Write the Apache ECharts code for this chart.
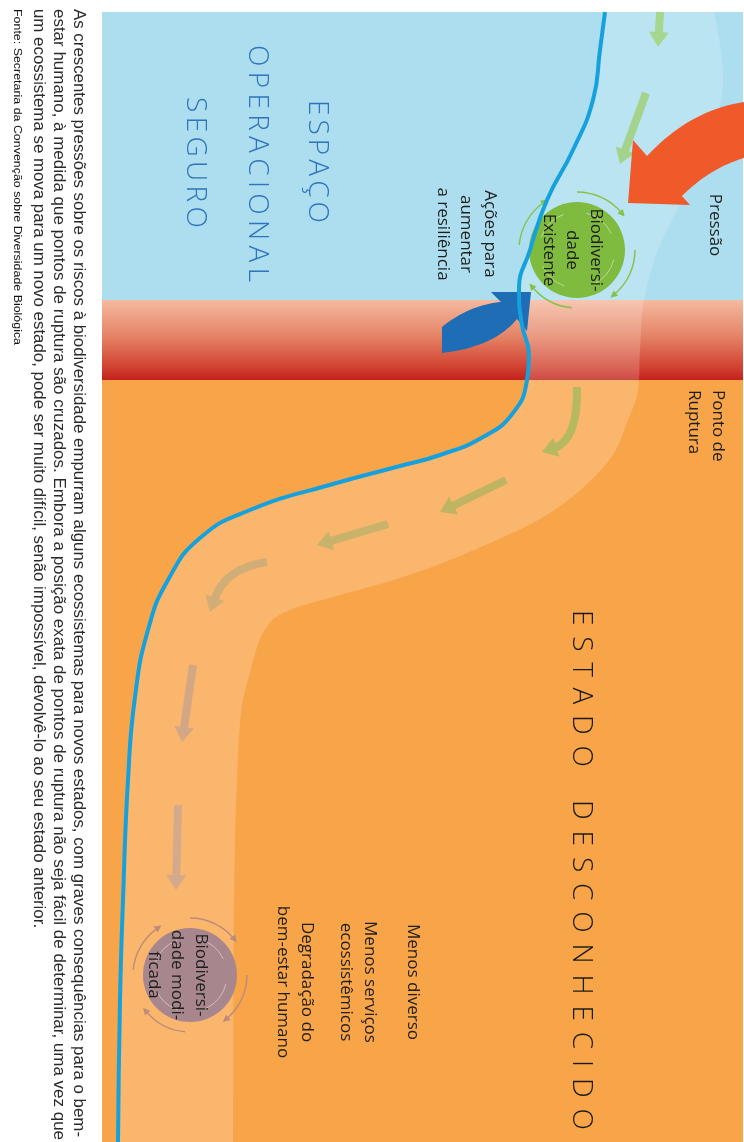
<!DOCTYPE html>
<html><head><meta charset="utf-8">
<script src="https://cdn.jsdelivr.net/npm/echarts@6/dist/echarts.min.js"></script>
<style>html,body{margin:0;padding:0;background:#fff}#c{width:744px;height:1142px}</style>
</head><body><div id="c"></div>
<script>
// ---------------- DATA ----------------
// zones of the state space (along the panel, top to bottom)
const zoneNames = ['Espaço operacional seguro', 'Ponto de ruptura', 'Estado desconhecido'];
const zoneFrom = [12, 300, 380];
const zoneTo = [300, 380, 1142];

// threshold curve separating the states
const thresholdCurve = [[605,12],[600,50],[593,100],[573,150],[547,200],[530,250],[519,290],[522,325],[529,355],[527,380],[513,413],[483,437],[440,455],[400,466],[333,484],[250,510],[200,538],[168,580],[148,630],[135,697],[128,780],[123,900],[120,1000],[118,1142]];
// outer edge of the trajectory band
const bandEdge = [[714,12],[722,60],[721,100],[706,150],[682,200],[658,250],[644,300],[640,350],[638,390],[628,420],[607,463],[550,513],[467,553],[400,578],[333,597],[283,613],[262,635],[248,680],[241,713],[237,780],[234,900],[233,1142]];

// trajectory arrows (start, optional bend, tip)
const flowFrom = [[660,12],[646,93],[577,387],[506,480],[388,524],[267,562],[193,665],[178,805]];
const flowVia  = [null,null,[578,440],null,null,[225,568],null,null];
const flowTo   = [[658,47],[620,164],[542,452],[440,512],[317,545],[210,612],[182,742],[176,890]];

// big arrows: Pressão, Ações para aumentar a resiliência
const bigArrowNames = ['Pressão', 'Ações para aumentar a resiliência'];
const bigArrowHead = [[[633,140],[628,203],[690,205]], [[491,292],[531,292],[527,331]]];
const bigArrowEdgeA = [[[682,196],[710,168],[744,158]], [[517,319],[494,347],[442,353]]];
const bigArrowEdgeB = [[[744,102],[690,110],[647,156]], [[442,327],[469,305],[501,302]]];

// biodiversity states
const stateNames = ['Biodiversidade existente', 'Biodiversidade modificada'];
const stateCenter = [[577,250],[190,975]];
const stateRadius = [48,47];
const orbitStartDeg = [-90, 0, 95, 185];
const orbitEndDeg = [-40, 50, 140, 235];

// labels
const labelText = ['Pressão', 'Ponto de\nRuptura', 'Biodiversi-\ndade\nExistente', 'Ações para\naumentar\na resiliência', 'Menos diverso', 'Menos serviços\necossistêmicos', 'Degradação do\nbem-estar humano', 'Biodiversi-\ndade modi-\nficada'];
const labelPos = [[715,225],[706,390],[572,250],[466,234],[413,982],[358,982],[295,982],[177,975]];
const labelAlign = ['center','left','center','center','center','center','center','center'];

// spaced headings
const headingWords = ['ESPAÇO','OPERACIONAL','SEGURO','ESTADO','DESCONHECIDO'];
const headingX = [317,257,195,581,581];
const headingFrom = [100,45,97,610,800];
const headingTo = [223,282,228,767,1130];

// caption
const captionLines = [
  'As crescentes pressões sobre os riscos à biodiversidade empurram alguns ecossistemas para novos estados, com graves consequências para o bem-',
  'estar humano, à medida que pontos de ruptura são cruzados. Embora a posição exata de pontos de ruptura não seja fácil de determinar, uma vez que',
  'um ecossistema se mova para um novo estado, pode ser muito difícil, senão impossível, devolvê-lo ao seu estado anterior.',
  'Fonte: Secretaria da Convenção sobre Diversidade Biológica'
];
const captionX = [78,58,38,17];
const captionTo = [1137,1140,null,345];

// ---------------- STYLE ----------------
const PANEL_L = 102, PANEL_R = 743, CAPTION_START = 9;
const zoneFill = ['#acdef0',
  new echarts.graphic.LinearGradient(0,0,0,1,[{offset:0,color:'#f5b9a0'},{offset:0.45,color:'#e58466'},{offset:0.85,color:'#d0402f'},{offset:1,color:'#c4201c'}]),
  '#f8a54a'];
const flowColor = ['#a6d78e','#a4d48b','#b6b95f','#c0b463','#c9b36b','#d1ad78','#d4a784','#d5a98b'];
const bigArrowColor = ['#f05a2a','#1f6db4'];
const stateFill = ['#7fbb3e','#a7868e'];
const orbitColor = ['#84c243','#bd8a7c'];
const TXT = '#1e1e1c';
const FONT = '"Open Sans", sans-serif';
const ROT = -Math.PI / 2;

const mctx = document.createElement('canvas').getContext('2d');
function measure(t, font){ mctx.font = font; return mctx.measureText(t).width; }

function quad(p0, c, p1, n){
  const out = [];
  for (let i = 0; i <= n; i++){
    const t = i / n, a = (1-t)*(1-t), b = 2*(1-t)*t, d = t*t;
    out.push([a*p0[0]+b*c[0]+d*p1[0], a*p0[1]+b*c[1]+d*p1[1]]);
  }
  return out;
}
function catmull(pts, n){
  const out = [pts[0]];
  for (let i = 0; i < pts.length - 1; i++){
    const p0 = pts[Math.max(i-1,0)], p1 = pts[i], p2 = pts[i+1], p3 = pts[Math.min(i+2, pts.length-1)];
    for (let k = 1; k <= n; k++){
      const t = k/n, t2 = t*t, t3 = t2*t;
      out.push([0,1].map(j => 0.5*((2*p1[j]) + (-p0[j]+p2[j])*t + (2*p0[j]-5*p1[j]+4*p2[j]-p3[j])*t2 + (-p0[j]+3*p1[j]-3*p2[j]+p3[j])*t3)));
    }
  }
  return out;
}

const chart = echarts.init(document.getElementById('c'));

const series = [
  { // zones
    type:'custom', name:'zones', z:1, silent:true,
    data: zoneNames.map((n,i) => [zoneFrom[i], zoneTo[i]]),
    renderItem: (params, api) => {
      const i = params.dataIndex;
      const a = api.coord([PANEL_L, zoneFrom[i]]), b = api.coord([PANEL_R, zoneTo[i]]);
      return {type:'rect', shape:{x:a[0], y:a[1], width:b[0]-a[0], height:b[1]-a[1]}, style:{fill: zoneFill[i]}};
    }
  },
  { // light trajectory band
    type:'custom', name:'band', z:2, silent:true, data:[0],
    renderItem: (params, api) => {
      const inner = catmull(thresholdCurve, 10).map(p => api.coord(p));
      const outer = catmull(bandEdge, 10).map(p => api.coord(p)).reverse();
      return {type:'polygon', shape:{points: inner.concat(outer)}, style:{fill:'rgba(255,255,255,0.19)'}};
    }
  },
  { // trajectory arrows
    type:'custom', name:'trajectory', z:3, silent:true,
    data: flowFrom.map((p,i) => flowTo[i]),
    renderItem: (params, api) => {
      const i = params.dataIndex, col = flowColor[i];
      const s = api.coord(flowFrom[i]), e = api.coord(flowTo[i]);
      const c = flowVia[i] ? api.coord(flowVia[i]) : null;
      const ref = c || s;
      let dx = e[0]-ref[0], dy = e[1]-ref[1];
      const L = Math.hypot(dx, dy); dx /= L; dy /= L;
      const HL = 15, HW = 10, nx = -dy, ny = dx;
      const base = [e[0]-dx*HL, e[1]-dy*HL];
      const end = [base[0]+dx*2, base[1]+dy*2];
      const shaft = c
        ? {type:'bezierCurve', shape:{x1:s[0], y1:s[1], x2:end[0], y2:end[1], cpx1:c[0], cpy1:c[1]}, style:{stroke:col, lineWidth:8, fill:null}}
        : {type:'line', shape:{x1:s[0], y1:s[1], x2:end[0], y2:end[1]}, style:{stroke:col, lineWidth:8}};
      const head = {type:'polygon', shape:{points:[e, [base[0]+nx*HW, base[1]+ny*HW], [base[0]-nx*HW, base[1]-ny*HW]]}, style:{fill:col}};
      return {type:'group', children:[shaft, head]};
    }
  },
  { // biodiversity states
    type:'custom', name:'states', z:3, silent:true,
    data: stateCenter,
    renderItem: (params, api) => {
      const i = params.dataIndex;
      const c = api.coord(stateCenter[i]);
      const r = stateRadius[i];
      const kids = [{type:'circle', shape:{cx:c[0], cy:c[1], r:r}, style:{fill:stateFill[i]}}];
      orbitStartDeg.forEach((sd, k) => {
        const s = sd*Math.PI/180, e = orbitEndDeg[k]*Math.PI/180, R = r + 10;
        kids.push({type:'arc', shape:{cx:c[0], cy:c[1], r:R, startAngle:s, endAngle:e, clockwise:true}, style:{stroke:orbitColor[i], lineWidth:1.4, fill:null}});
        const p = [c[0]+R*Math.cos(e), c[1]+R*Math.sin(e)];
        const d = [-Math.sin(e), Math.cos(e)], n = [Math.cos(e), Math.sin(e)];
        kids.push({type:'polygon', shape:{points:[[p[0]+d[0]*5, p[1]+d[1]*5],[p[0]-d[0]*2+n[0]*3.5, p[1]-d[1]*2+n[1]*3.5],[p[0]-d[0]*2-n[0]*3.5, p[1]-d[1]*2-n[1]*3.5]]}, style:{fill:orbitColor[i]}});
        const s2 = s + 0.25, e2 = e + 0.25;
        kids.push({type:'arc', shape:{cx:c[0], cy:c[1], r:r-10, startAngle:s2, endAngle:e2, clockwise:true}, style:{stroke:'rgba(255,255,255,0.45)', lineWidth:1, fill:null}});
      });
      return {type:'group', children:kids};
    }
  },
  { // big arrows
    type:'custom', name:'forces', z:4, silent:true,
    data: bigArrowNames.map((n,i) => bigArrowHead[i][1]),
    renderItem: (params, api) => {
      const i = params.dataIndex;
      const pts = bigArrowHead[i].concat(quad(...bigArrowEdgeA[i], 20), quad(...bigArrowEdgeB[i], 20)).map(p => api.coord(p));
      return {type:'polygon', shape:{points:pts}, style:{fill:bigArrowColor[i]}};
    }
  },
  { // threshold curve
    type:'line', name:'limiar', z:5, silent:true, data: thresholdCurve, smooth:0.5, symbol:'none',
    lineStyle:{color:'#15a1dd', width:4}
  },
  { // labels
    type:'custom', name:'labels', z:6, silent:true,
    data: labelPos,
    renderItem: (params, api) => {
      const i = params.dataIndex;
      const p = api.coord(labelPos[i]);
      return {type:'text', x:p[0], y:p[1], rotation:ROT,
        style:{text:labelText[i], fill:TXT, fontSize:17, fontFamily:FONT, lineHeight:23.5, align:labelAlign[i], verticalAlign:'middle'}};
    }
  },
  { // spaced headings
    type:'custom', name:'headings', z:6, silent:true,
    data: headingWords.map((w,i) => [headingX[i], headingFrom[i]]),
    renderItem: (params, api) => {
      const i = params.dataIndex, word = headingWords[i];
      const size = 28, weight = 300;
      const font = weight + ' ' + size + 'px ' + FONT;
      const chars = Array.from(word);
      const widths = chars.map(ch => measure(ch, font));
      const total = widths.reduce((a,b) => a+b, 0);
      const track = (headingTo[i] - headingFrom[i] - total) / (chars.length - 1);
      const col = i < 3 ? '#2f74bd' : '#1a1a18';
      let y = headingFrom[i];
      const kids = chars.map((ch, k) => {
        const p = api.coord([headingX[i], y]);
        y += widths[k] + track;
        return {type:'text', x:p[0], y:p[1], rotation:ROT, style:{text:ch, fill:col, fontSize:size, fontWeight:weight, fontFamily:FONT, align:'left', verticalAlign:'middle'}};
      });
      return {type:'group', children:kids};
    }
  },
  { // caption
    type:'custom', name:'caption', z:6, silent:true,
    data: captionLines.map((t,i) => [captionX[i], CAPTION_START]),
    renderItem: (params, api) => {
      const i = params.dataIndex;
      const size = i < 3 ? 16 : 10.5;
      const fam = '"Liberation Sans", Arial, sans-serif';
      const font = 'normal ' + size + 'px ' + fam;
      const ref = captionTo[0] - CAPTION_START;
      let sc;
      if (captionTo[i] != null) sc = (captionTo[i] - CAPTION_START) / measure(captionLines[i], font);
      else sc = ref / measure(captionLines[0], font);
      const p = api.coord([captionX[i], CAPTION_START]);
      return {type:'text', x:p[0], y:p[1], rotation:ROT, scaleX:sc,
        style:{text:captionLines[i], fill: i < 3 ? '#2a2a2a' : '#111', fontSize:size, fontFamily:fam, align:'left', verticalAlign:'middle'}};
    }
  }
];

chart.setOption({
  animation:false,
  backgroundColor:'#ffffff',
  grid:{left:0, right:0, top:0, bottom:0},
  xAxis:{type:'value', min:0, max:744, show:false},
  yAxis:{type:'value', min:0, max:1142, inverse:true, show:false},
  series: series
});
</script></body></html>
